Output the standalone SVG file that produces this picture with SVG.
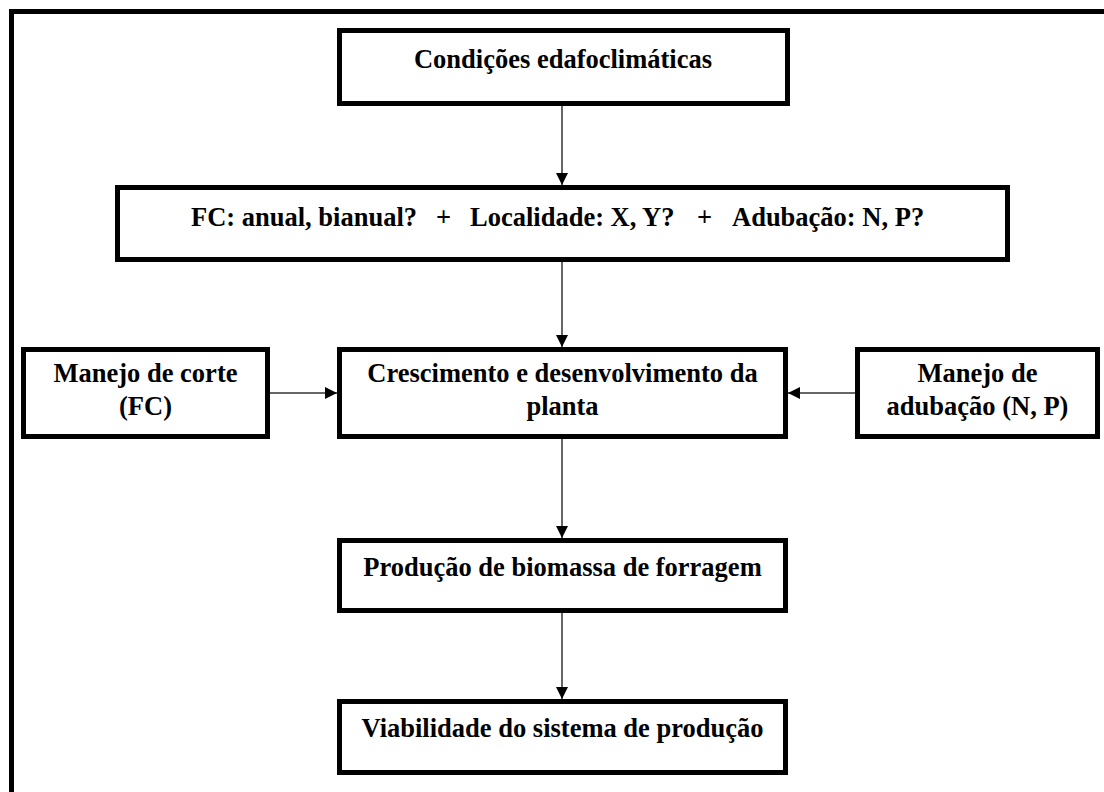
<svg xmlns="http://www.w3.org/2000/svg" width="1104" height="792" viewBox="0 0 1104 792">
  <style>
    .box { fill: #ffffff; stroke: #000000; stroke-width: 5; }
    .lbl { font-family: "Liberation Serif", "Times New Roman", serif; font-weight: bold; font-size: 26.5px; fill: #000000; text-anchor: middle; }
    .lft { text-anchor: start; }
    .edge { stroke: #333333; stroke-width: 1.5; fill: none; marker-end: url(#arrow); }
  </style>
  <defs>
    <marker id="arrow" markerUnits="userSpaceOnUse" markerWidth="13" markerHeight="12" refX="12" refY="6" orient="auto">
      <path d="M0,0 L12,6 L0,12 Z" fill="#000000"/>
    </marker>
  </defs>

  <rect x="0" y="0" width="1104" height="792" fill="#ffffff"/>
  <!-- outer frame (top and left edges) -->
  <path d="M11.5,792 V11.5 H1104" fill="none" stroke="#000000" stroke-width="5"/>

  <g id="connectors">
    <line class="edge" x1="562" y1="106" x2="562" y2="185"/>
    <line class="edge" x1="562" y1="262" x2="562" y2="347"/>
    <line class="edge" x1="562" y1="439" x2="562" y2="538"/>
    <line class="edge" x1="562" y1="613" x2="562" y2="699"/>
    <line class="edge" x1="270" y1="393" x2="337" y2="393"/>
    <line class="edge" x1="855" y1="393" x2="788" y2="393"/>
  </g>

  <g id="condicoes">
    <rect class="box" x="339.5" y="30.5" width="448" height="73"/>
    <text class="lbl" x="563" y="68">Condições edafoclimáticas</text>
  </g>

  <g id="fatores">
    <rect class="box" x="117.5" y="187.5" width="890" height="72"/>
    <text class="lbl lft" y="226"><tspan x="191">FC: anual, bianual?</tspan><tspan x="436">+</tspan><tspan x="470">Localidade: X, Y?</tspan><tspan x="697">+</tspan><tspan x="732">Adubação: N, P?</tspan></text>
  </g>

  <g id="manejo-corte">
    <rect class="box" x="23.5" y="349.5" width="244" height="87"/>
    <text class="lbl" x="145.5" y="382">Manejo de corte</text>
    <text class="lbl" x="145.5" y="415">(FC)</text>
  </g>

  <g id="crescimento">
    <rect class="box" x="339.5" y="349.5" width="446" height="87"/>
    <text class="lbl" x="562.5" y="382">Crescimento e desenvolvimento da</text>
    <text class="lbl" x="562.5" y="415">planta</text>
  </g>

  <g id="manejo-adubacao">
    <rect class="box" x="857.5" y="349.5" width="240" height="87"/>
    <text class="lbl" x="977.5" y="382">Manejo de</text>
    <text class="lbl" x="977.5" y="415">adubação (N, P)</text>
  </g>

  <g id="producao">
    <rect class="box" x="339.5" y="540.5" width="446" height="70"/>
    <text class="lbl" x="562.5" y="576">Produção de biomassa de forragem</text>
  </g>

  <g id="viabilidade">
    <rect class="box" x="339.5" y="701.5" width="446" height="71"/>
    <text class="lbl" x="562.5" y="737">Viabilidade do sistema de produção</text>
  </g>
</svg>
